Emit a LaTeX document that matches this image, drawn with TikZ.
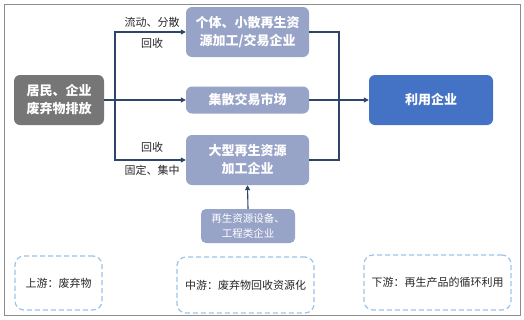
\documentclass[tikz,border=0pt]{standalone}
\usepackage{fontspec}
\setmainfont{Noto Sans CJK SC}
\usetikzlibrary{arrows.meta}
\definecolor{srcgray}{HTML}{767676}
\definecolor{lightbox}{HTML}{98A3C8}
\definecolor{usebox}{HTML}{4472C4}
\definecolor{dashblue}{HTML}{9DC3E6}
\definecolor{linecol}{HTML}{2E4468}
\definecolor{framegray}{HTML}{8C8C8C}
\tikzset{
  box/.style={rounded corners=6pt, draw=none, text=white, font=\bfseries\fontsize{13}{18}\selectfont, align=center, inner sep=0pt},
  conn/.style={draw=linecol, line width=1.1pt},
  arr/.style={conn, -{Triangle[length=5pt,width=5pt]}},
  lbl/.style={font=\fontsize{11}{13}\selectfont, text=black!85},
  stage/.style={draw=dashblue, dashed, dash pattern=on 5pt off 3pt, line width=1.2pt, rounded corners=9pt, font=\fontsize{11}{13}\selectfont, text=black!85, align=center}
}
\begin{document}
\begin{tikzpicture}[x=1pt,y=-1pt]
\useasboundingbox (0,0) rectangle (524,319);
\draw[framegray, line width=0.8pt] (4,4) rectangle (520,315);

\node[box, fill=srcgray, minimum width=90pt, minimum height=50pt] (src) at (59,100) {居民、企业\\废弃物排放};
\node[box, fill=lightbox, minimum width=123pt, minimum height=50pt] (top) at (247.5,32) {个体、小散再生资\\源加工/交易企业};
\node[box, fill=lightbox, minimum width=123pt, minimum height=27pt] (mid) at (247.5,100) {集散交易市场};
\node[box, fill=lightbox, minimum width=123pt, minimum height=50pt] (bot) at (247.5,160) {大型再生资源\\加工企业};
\node[box, fill=usebox, minimum width=124pt, minimum height=50pt] (use) at (431,100) {利用企业};
\node[box, fill=lightbox, font=\fontsize{10.5}{15}\selectfont, minimum width=94pt, minimum height=34pt, rounded corners=5pt] (equip) at (248,226) {再生资源设备、\\工程类企业};

\coordinate (j) at (115,100);
\coordinate (k) at (339,100);
\draw[conn] (src.east) -- (j);
\draw[arr] (j) |- (top.west);
\draw[arr] (j) -- (mid.west);
\draw[arr] (j) |- (bot.west);
\draw[conn] (top.east) -| (k);
\draw[conn] (bot.east) -| (k);
\draw[arr] (mid.east) -- (use.west);
\draw[arr] (equip.north) -- (bot.south);

\node[lbl] (l1) at (152,22) {流动、分散};
\node[lbl] (l2) at (152,43) {回收};
\node[lbl] (l3) at (152,147) {回收};
\node[lbl] (l4) at (152,170) {固定、集中};

\node[stage, minimum width=87pt, minimum height=54pt] (s1) at (58.5,283) {上游：废弃物};
\node[stage, minimum width=137pt, minimum height=56pt] (s2) at (245.5,285) {中游：废弃物回收资源化};
\node[stage, minimum width=147pt, minimum height=55pt] (s3) at (437.5,282.5) {下游：再生产品的循环利用};
\end{tikzpicture}
\end{document}
